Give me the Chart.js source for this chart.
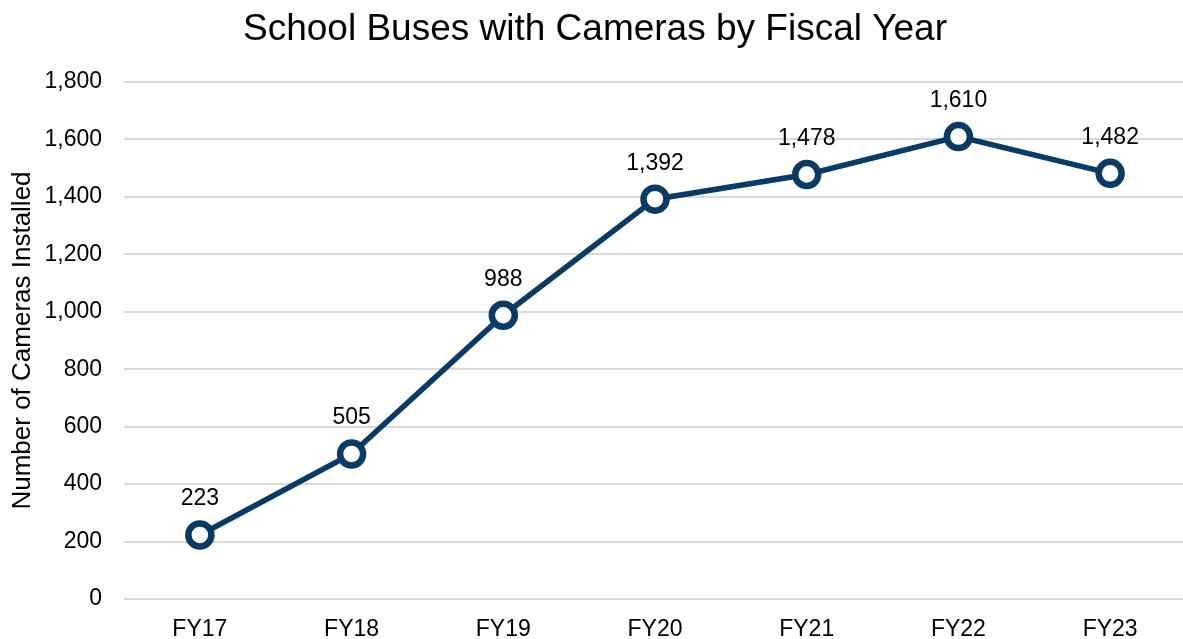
<!DOCTYPE html>
<html><head><meta charset="utf-8">
<script src="https://cdn.jsdelivr.net/npm/chart.js@4"></script>
<style>html,body{margin:0;padding:0;background:#fff;overflow:hidden}#wrap{width:1204px;height:639px}</style>
</head><body><div id="wrap"><canvas id="c" width="1204" height="639"></canvas></div>
<script>
const categories = ["FY17","FY18","FY19","FY20","FY21","FY22","FY23"];
const camerasInstalled = [223,505,988,1392,1478,1610,1482];
const yTicks = [0,200,400,600,800,1000,1200,1400,1600,1800];

const navy = '#0B3A62';
const fontFamily = '"Liberation Sans", Arial, sans-serif';

const labelPlugin = {
  id:'labels',
  afterLayout(chart){
    // centre the title on the visible 1183px page rather than the wider canvas
    if (chart.titleBlock) { chart.titleBlock.right = chart.titleBlock.left + 1190; }
  },
  afterDatasetsDraw(chart){
    const ctx = chart.ctx;
    const meta = chart.getDatasetMeta(0);
    ctx.save();
    ctx.font = '23px ' + fontFamily;
    ctx.fillStyle = '#000';
    ctx.textAlign = 'center';
    ctx.textBaseline = 'middle';
    meta.data.forEach((p,i)=>{
      ctx.fillText(camerasInstalled[i].toLocaleString('en-US'), p.x, p.y - 36);
    });
    ctx.restore();
  }
};

new Chart(document.getElementById('c'), {
  type:'line',
  data:{labels:categories, datasets:[{
    data:camerasInstalled,
    borderColor:navy, borderWidth:5.5,
    pointRadius:11.5, pointHoverRadius:11.5,
    pointBackgroundColor:'#fff', pointBorderColor:navy, pointBorderWidth:6.5,
    tension:0, clip:false
  }]},
  options:{
    responsive:false, animation:false,
    layout:{padding:{left:0,right:2,top:0,bottom:0}},
    plugins:{
      legend:{display:false}, tooltip:{enabled:false},
      title:{display:true, text:'School Buses with Cameras by Fiscal Year',
        color:'#000', font:{family:fontFamily, size:37, weight:'normal'}, padding:{top:8,bottom:29.6}, align:'center'}
    },
    scales:{
      x:{
        offset:true,
        grid:{display:false}, border:{display:false},
        ticks:{color:'#000', font:{family:fontFamily,size:23}, padding:9},
        afterFit(s){ s.height = 40; }
      },
      y:{
        min:0, max:1800,
        afterBuildTicks(s){ s.ticks = yTicks.map(v=>({value:v})); },
        grid:{color:'#D9D9D9', lineWidth:2, drawTicks:false},
        border:{display:false},
        ticks:{color:'#000', font:{family:fontFamily,size:23}, padding:22,
          callback:v=>v.toLocaleString('en-US')},
        title:{display:true, text:'Number of Cameras Installed', color:'#000',
          font:{family:fontFamily,size:26}, padding:7},
        afterFit(s){ s.width = 124; }
      }
    }
  },
  plugins:[labelPlugin]
});
</script></body></html>
